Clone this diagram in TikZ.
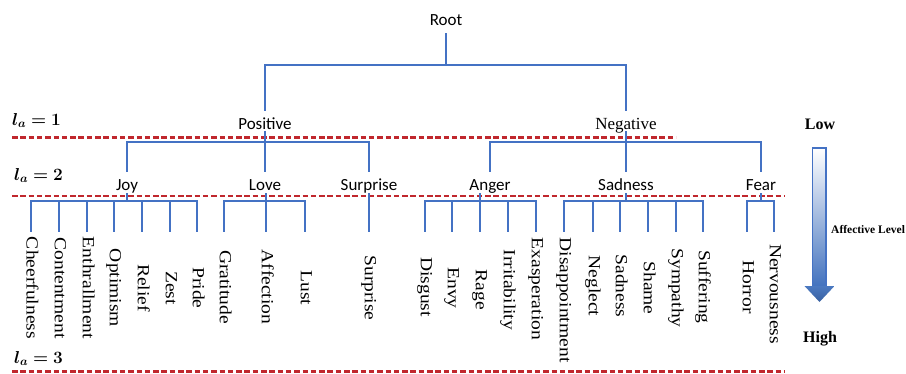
\documentclass[tikz,border=0pt]{standalone}
\usepackage{graphicx}
\usepackage{fontspec}
\setmainfont{Liberation Serif}
\newfontfamily\calib{Carlito}
\usepackage{bm}
\definecolor{treeblue}{RGB}{68,114,196}
\definecolor{dashred}{RGB}{192,39,45}
\definecolor{arrblue}{RGB}{66,114,190}
\newcommand{\lft}[1]{\scalebox{1.15}[1]{#1}}
\begin{document}
\begin{tikzpicture}[x=1pt,y=-1pt,
  tree/.style={draw=treeblue,line width=2.2pt},
  lvl/.style={draw=dashred,line width=2.6pt,dash pattern=on 5.5pt off 2.8pt},
  cat/.style={font=\calib\fontsize{17}{20}\selectfont,inner sep=0pt,anchor=base},
  catser/.style={font=\fontsize{17}{20}\selectfont,inner sep=0pt,anchor=base},
  leaf/.style={font=\fontsize{17}{20}\selectfont,inner sep=0pt,rotate=-90,anchor=center,text height=12pt,text depth=3.5pt},
  lab/.style={font=\fontsize{17}{20}\selectfont,inner sep=0pt,anchor=base west},
  side/.style={font=\bfseries\fontsize{16}{19}\selectfont,inner sep=0pt,anchor=base},
]
\useasboundingbox (0,0) rectangle (906,373);

% level coordinates
\coordinate (R0) at (0,33);
\coordinate (R1) at (0,65);
\coordinate (R2) at (0,111);
\coordinate (P0) at (0,131);
\coordinate (P1) at (0,142);
\coordinate (P2) at (0,172);
\coordinate (Q0) at (0,193);
\coordinate (Q1) at (0,201);
\coordinate (Q2) at (0,232);

% dashed level lines
\coordinate (d1a) at (12,137.5);
\coordinate (d1b) at (676,137.5);
\coordinate (d2a) at (12,196);
\coordinate (d2b) at (784,196);
\coordinate (d3a) at (12,371.5);
\coordinate (d3b) at (784,371.5);
\draw[lvl] (d1a) -- (d1b);
\draw[lvl] (d2a) -- (d2b);
\draw[lvl] (d3a) -- (d3b);

% level labels
\node[lab] (la1) at (12,125) {$\bm{l_a = 1}$};
\node[lab] (la2) at (14,180) {$\bm{l_a = 2}$};
\node[lab] (la3) at (14,363) {$\bm{l_a = 3}$};

% tree nodes
\node[cat] (root) at (446,25) {Root};
\node[cat] (pos) at (265,129) {Positive};
\node[catser] (neg) at (626,129) {Negative};
\node[cat] (joy) at (127,190) {Joy};
\node[cat] (love) at (265,190) {Love};
\node[cat] (surp) at (369,190) {Surprise};
\node[cat] (anger) at (490,190) {Anger};
\node[cat] (sad) at (626,190) {Sadness};
\node[cat] (fear) at (761,190) {Fear};

% leaves
\foreach \n/\x/\y/\t in {
  l1/31/288/Cheerfulness, l2/59/288/Contentment, l3/87/288/Enthrallment,
  l4/114/288/Optimism, l5/142/288/Relief, l6/170/288/Zest, l7/197/288/Pride,
  l8/224/287/Gratitude, l9/266/287/Affection, l10/305/288/Lust,
  l11/369/288/Surprise,
  l12/425/287/Disgust, l13/452/288/Envy, l14/480/290/Rage, l15/508/290/Irritability, l16/536/289/Exasperation,
  l17/564/300/Disappointment, l18/593/286/Neglect, l19/620/286/Sadness, l20/648/288/Shame, l21/676/288/Sympathy, l22/703/287/Suffering,
  l23/747/287/Horror, l24/774/294/Nervousness}
  \node[leaf] (\n) at (\x,\y) {\lft{\t}};

% tree connectors
\draw[tree] (root |- R0) -- (root |- R1) -| (pos |- R2);
\draw[tree] (root |- R1) -| (neg |- R2);

\foreach \c in {joy,love,surp}
  \draw[tree] (pos |- P0) -- (pos |- P1) -| (\c |- P2);
\foreach \c in {anger,sad,fear}
  \draw[tree] (neg |- P0) -- (neg |- P1) -| (\c |- P2);

\foreach \c in {l1,l2,l3,l4,l5,l6,l7}
  \draw[tree] (joy |- Q0) -- (joy |- Q1) -| (\c |- Q2);
\foreach \c in {l8,l9,l10}
  \draw[tree] (l9 |- Q0) -- (l9 |- Q1) -| (\c |- Q2);
\draw[tree] (surp |- Q0) -- (l11 |- Q2);
\foreach \c in {l12,l13,l14,l15,l16}
  \draw[tree] (l14 |- Q0) -- (l14 |- Q1) -| (\c |- Q2);
\foreach \c in {l17,l18,l19,l20,l21,l22}
  \draw[tree] (sad |- Q0) -- (sad |- Q1) -| (\c |- Q2);
\foreach \c in {l23,l24}
  \draw[tree] (fear |- Q0) -- (fear |- Q1) -| (\c |- Q2);

% affective level arrow
\node[side] (low) at (820,129) {Low};
\node[side] (high) at (820,342) {High};
\shade[top color=white,bottom color=arrblue] (812.5,148) rectangle (826,287);
\draw[draw=treeblue,line width=1.4pt] (812.5,148) rectangle (826,287);
\shade[top color=arrblue!95!white,bottom color=arrblue!85!black] (804.5,286) -- (834.5,286) -- (819.5,302) -- cycle;
\node[font=\bfseries\fontsize{11.5}{13}\selectfont,inner sep=0pt,anchor=base west] (afl) at (831,233) {Affective Level};
\end{tikzpicture}
\end{document}
